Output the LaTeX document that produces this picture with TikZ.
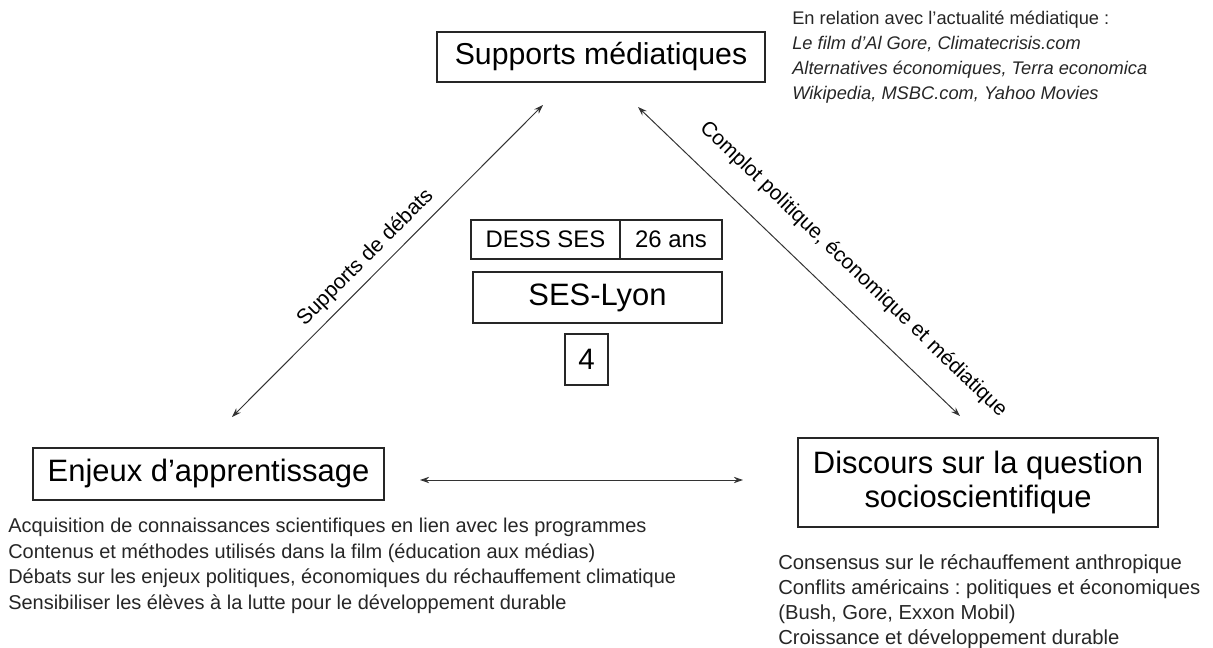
\documentclass[tikz,border=0pt]{standalone}
\usepackage{fontspec}
\setmainfont{Liberation Sans}
\usetikzlibrary{arrows.meta}
\frenchspacing

\begin{document}
\begin{tikzpicture}[x=0.025cm, y=-0.025cm,
    boite/.style={draw=black!85, line width=0.8pt, inner sep=0pt, align=center},
    fleche/.style={{Stealth[length=6.5pt,width=4.5pt]}-{Stealth[length=6.5pt,width=4.5pt]}, draw=black!80, line width=0.7pt},
    liste/.style={anchor=north west, inner sep=0pt, align=left, text=black!85}]
  \useasboundingbox (0,0) rectangle (1213,648);

  \node[boite, minimum width=8.2cm, minimum height=1.25cm, font=\fontsize{21.5}{26}\selectfont] (supports) at (601,57) {Supports médiatiques};
  \node[liste, font=\fontsize{13}{17.8}\selectfont] (actualite) at (792,11)
    {En relation avec l'actualité médiatique :\\
     \itshape Le film d'Al Gore, Climatecrisis.com\\
     \itshape Alternatives économiques, Terra economica\\
     \itshape Wikipedia, MSBC.com, Yahoo Movies};

  \node[boite, minimum width=3.725cm, minimum height=0.975cm, font=\fontsize{17}{20}\selectfont] (dess) at (545.5,239.5) {DESS SES};
  \node[boite, minimum width=2.55cm, minimum height=0.975cm, font=\fontsize{17}{20}\selectfont] (age) at (671,239.5) {26 ans};
  \node[boite, minimum width=6.225cm, minimum height=1.275cm, font=\fontsize{22}{26}\selectfont] (lyon) at (597.5,297.5) {SES-Lyon};
  \node[boite, minimum width=1.075cm, minimum height=1.275cm, font=\fontsize{21}{26}\selectfont] (quatre) at (586.5,359.5) {4};

  \node[boite, minimum width=8.775cm, minimum height=1.3cm, font=\fontsize{22}{26}\selectfont] (enjeux) at (208.5,474) {Enjeux d’apprentissage};
  \node[liste, font=\fontsize{14.2}{18.1}\selectfont] (apprentissage) at (8,518)
    {Acquisition de connaissances scientifiques en lien avec les programmes\\
     Contenus et méthodes utilisés dans la film (éducation aux médias)\\
     Débats sur les enjeux politiques, économiques du réchauffement climatique\\
     Sensibiliser les élèves à la lutte pour le développement durable};

  \node[boite, minimum width=9cm, minimum height=2.225cm, font=\fontsize{22}{23.5}\selectfont] (discours) at (978,482.5) {Discours sur la question\\socioscientifique};
  \node[liste, font=\fontsize{14.4}{17.8}\selectfont] (question) at (778,554)
    {Consensus sur le réchauffement anthropique\\
     Conflits américains : politiques et économiques\\
     (Bush, Gore, Exxon Mobil)\\
     Croissance et développement durable};

  \coordinate (debatsbas) at (232,417);
  \coordinate (debatshaut) at (543,105);
  \coordinate (complothaut) at (638,107);
  \coordinate (complotbas) at (960,416);
  \coordinate (lienG) at (420,480);
  \coordinate (lienD) at (743,480);

  \draw[fleche] (debatsbas) -- node[sloped, above=2pt, pos=0.47, font=\fontsize{15}{18}\selectfont] {Supports de débats} (debatshaut);
  \draw[fleche] (complothaut) -- node[sloped, above=12pt, pos=0.6, font=\fontsize{14.8}{18}\selectfont] {Complot politique, économique et médiatique} (complotbas);
  \draw[fleche] (lienG) -- (lienD);
\end{tikzpicture}
\end{document}
